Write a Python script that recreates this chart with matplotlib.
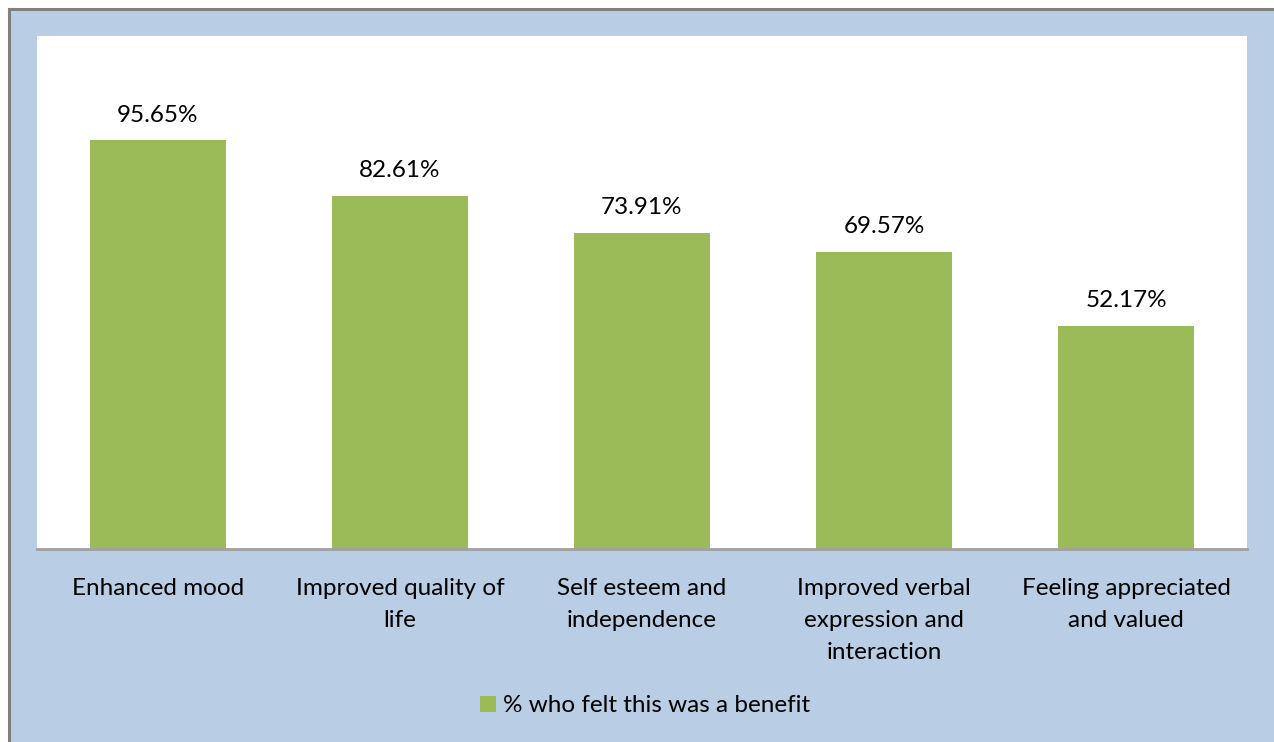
import matplotlib.pyplot as plt
from matplotlib.lines import Line2D
from matplotlib.patches import Patch

# --- DATA ---
categories = [
    "Enhanced mood",
    "Improved quality of\nlife",
    "Self esteem and\nindependence",
    "Improved verbal\nexpression and\ninteraction",
    "Feeling appreciated\nand valued",
]
values = [95.65, 82.61, 73.91, 69.57, 52.17]
series_name = "% who felt this was a benefit"

BAR_COLOR = "#9BBB59"
BG_COLOR = "#B9CDE5"
FS = 17.5

plt.rcParams['font.family'] = ['Lato', 'DejaVu Sans']

fig = plt.figure(figsize=(12.74, 7.42), dpi=100)
fig.patch.set_facecolor("white")

# chart area background with gray border on left/top
W, H = 1274, 742
bg = plt.Rectangle((8 / W, 0), 1, 1 - 8 / H, transform=fig.transFigure,
                   facecolor=BG_COLOR, edgecolor="none", zorder=-5)
fig.add_artist(bg)
fig.add_artist(Line2D([8.5 / W, 8.5 / W], [0, 1 - 8.5 / H], transform=fig.transFigure,
                      color="#808080", lw=2.2, zorder=-4))
fig.add_artist(Line2D([8.5 / W, 1], [1 - 8.5 / H, 1 - 8.5 / H], transform=fig.transFigure,
                      color="#808080", lw=2.2, zorder=-4))

ax = fig.add_axes([37 / W, 1 - 549 / H, 1210 / W, 513 / H])
ax.set_zorder(1)
ax.set_facecolor("white")

x = range(len(categories))
bars = ax.bar(x, values, width=0.566, color=BAR_COLOR, zorder=2)
for b, v in zip(bars, values):
    ax.text(b.get_x() + b.get_width() / 2, v + 3.4, f"{v:.2f}%",
            ha="center", va="bottom", fontsize=FS, color="black")

ax.set_xlim(-0.5, len(categories) - 0.5)
ax.set_ylim(0, 120)
ax.set_yticks([])
ax.set_xticks(list(x))
ax.set_xticklabels(categories, fontsize=FS, linespacing=1.65, va="top")
ax.tick_params(axis="x", length=0, pad=21)
for s in ["top", "right", "left"]:
    ax.spines[s].set_visible(False)
ax.spines["bottom"].set_color("#A0A0A0")
ax.spines["bottom"].set_linewidth(2)

handle = Patch(facecolor=BAR_COLOR, edgecolor="none")
leg = fig.legend([handle], [series_name], loc="center", bbox_to_anchor=(645 / W, 1 - 706 / H),
                 frameon=False, fontsize=FS, handlelength=0.65, handleheight=0.65,
                 handletextpad=0.3)
leg.set_zorder(2)

fig.savefig("out.png", dpi=100, facecolor=fig.get_facecolor())
